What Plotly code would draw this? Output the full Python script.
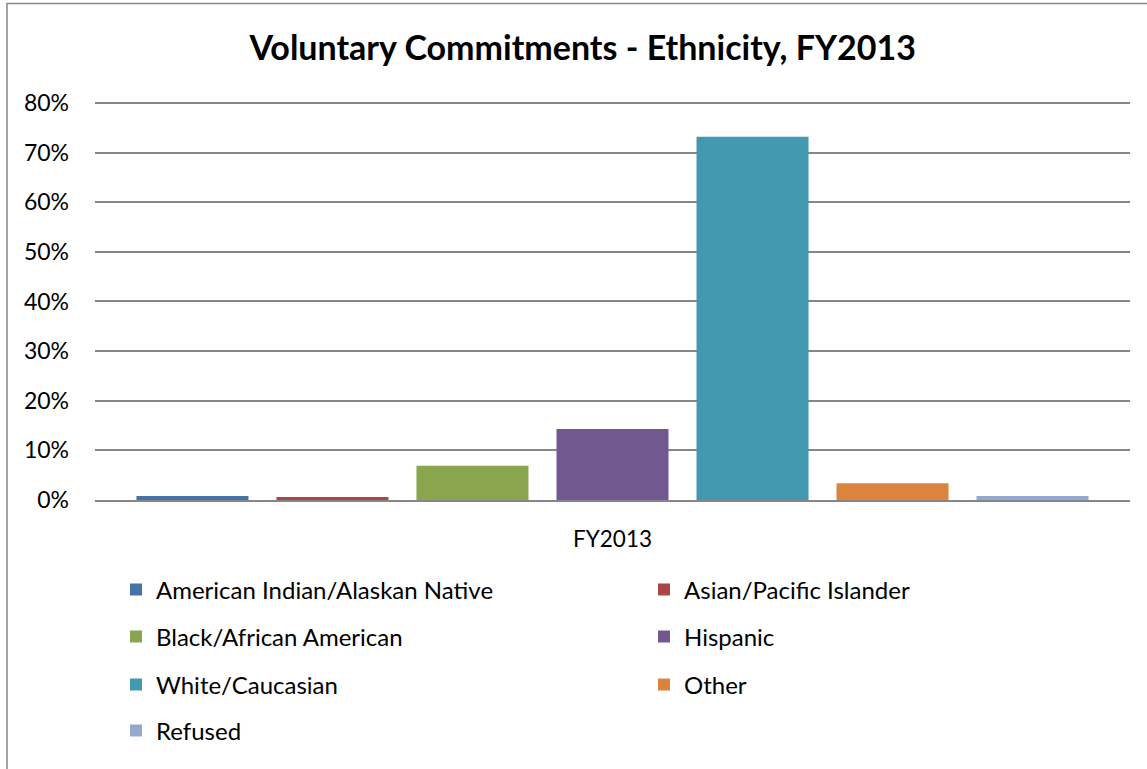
import plotly.graph_objects as go

categories = ["FY2013"]
series_names = [
    "American Indian/Alaskan Native",
    "Asian/Pacific Islander",
    "Black/African American",
    "Hispanic",
    "White/Caucasian",
    "Other",
    "Refused",
]
series_values = [0.008, 0.006, 0.069, 0.143, 0.732, 0.034, 0.008]
colors = ["#4572A7", "#AA4643", "#89A54E", "#71588F", "#4198AF", "#DB843D", "#93A9CF"]
y_tick_vals = [0, 0.1, 0.2, 0.3, 0.4, 0.5, 0.6, 0.7, 0.8]

W, H = 1147, 769
L, R, T, B = 95, 17, 98, 269
PW, PH = W - L - R, H - T - B

FONT = "Lato, Carlito, Calibri, sans-serif"

# legend positions in pixels (marker left x, row center y)
leg_pos = [(140, 590), (668, 590), (140, 637), (668, 637), (140, 685), (668, 685), (140, 731)]

fig = go.Figure()
for i, (name, val, col) in enumerate(zip(series_names, series_values, colors)):
    lname = "legend" if i == 0 else f"legend{i+1}"
    fig.add_trace(go.Bar(
        x=categories, y=[val], name=name, marker_color=col,
        marker_line_width=0, legend=lname,
    ))

layout_legends = {}
for i, (px, py) in enumerate(leg_pos):
    lname = "legend" if i == 0 else f"legend{i+1}"
    layout_legends[lname] = dict(
        x=(px - 24 - L) / PW, y=(H - B - py) / PH,
        xanchor="left", yanchor="middle",
        font=dict(family=FONT, size=24, color="#000000"),
        bgcolor="rgba(0,0,0,0)", borderwidth=0,
    )

fig.update_layout(
    width=W, height=H,
    margin=dict(l=L, r=R, t=T, b=B, autoexpand=False),
    paper_bgcolor="white", plot_bgcolor="white",
    barmode="group", bargap=0.053, bargroupgap=0.2,
    showlegend=True,
    title=dict(text="<b>Voluntary Commitments - Ethnicity, FY2013</b>",
               x=0.508, xanchor="center", y=1 - 48 / H, yanchor="middle",
               font=dict(family=FONT, size=34, color="#000000")),
    font=dict(family=FONT, size=23, color="#000000"),
    xaxis=dict(showgrid=False, showline=True, linecolor="#868686", linewidth=2,
               ticks="", ticklabelstandoff=18,
               tickfont=dict(family=FONT, size=22.5, color="#000000")),
    yaxis=dict(range=[0, 0.81], tickvals=y_tick_vals, tickformat=".0%",
               showgrid=True, gridcolor="#868686", gridwidth=1.5,
               showline=False, zeroline=False, ticks="", ticklabelstandoff=25,
               tickfont=dict(family=FONT, size=23, color="#000000")),
    shapes=[dict(type="rect", xref="paper", yref="paper",
                 x0=(7 - L) / PW, x1=(1160 - L) / PW,
                 y0=(H - B - 790) / PH, y1=(H - B - 3.5) / PH,
                 line=dict(color="#868686", width=1.5), fillcolor="rgba(0,0,0,0)",
                 layer="below")],
    **layout_legends,
)

fig.write_html("out.html", config={"displayModeBar": False},
               post_script="document.body.style.margin='0';")
